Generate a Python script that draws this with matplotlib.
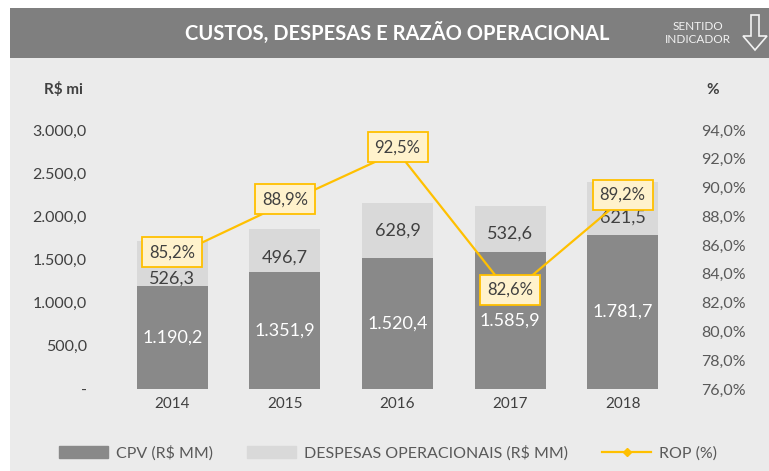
import numpy as np
import matplotlib.pyplot as plt
from matplotlib.patches import Rectangle, Polygon
from matplotlib.lines import Line2D
from matplotlib.patches import Patch

plt.rcParams['font.family'] = ['Lato', 'DejaVu Sans']

# dados
anos = ['2014', '2015', '2016', '2017', '2018']
cpv = [1190.2, 1351.9, 1520.4, 1585.9, 1781.7]
despesas = [526.3, 496.7, 628.9, 532.6, 621.5]
rop = [85.2, 88.9, 92.5, 82.6, 89.2]

# deslocamento (pt) dos rótulos de despesas para não bater nas caixas
desp_offset = [-11, -5, 0, -3, -7]

W, H = 769, 471
fig = plt.figure(figsize=(W / 100, H / 100), dpi=100)
fig.patch.set_facecolor('white')

def fx(px):
    return px / W

def fy(py):
    return 1 - py / H

# fundo e faixa do titulo
fig.patches.append(Rectangle((fx(10), 0), 1 - fx(10), fy(58), transform=fig.transFigure,
                             facecolor='#EBEBEB', edgecolor='none', zorder=-2))
fig.patches.append(Rectangle((fx(10), fy(58)), 1 - fx(10), fy(8) - fy(58), transform=fig.transFigure,
                             facecolor='#7F7F7F', edgecolor='none', zorder=-2))
fig.text(fx(397), fy(33), 'CUSTOS, DESPESAS E RAZÃO OPERACIONAL', color='white',
         fontsize=14.5, fontweight='bold', ha='center', va='center')
fig.text(fx(698), fy(33), 'SENTIDO\nINDICADOR', color='#F2F2F2', fontsize=8.5,
         ha='center', va='center', linespacing=1.3)
seta = [(751, 15), (759, 15), (759, 36), (767, 36), (755, 50), (743, 36), (751, 36)]
fig.patches.append(Polygon([(fx(x), fy(y)) for x, y in seta], closed=True, transform=fig.transFigure,
                           facecolor='none', edgecolor='#F2F2F2', linewidth=1.2, zorder=-1))

ax = fig.add_axes([fx(116), fy(389), fx(679) - fx(116), fy(130) - fy(389)])
ax.set_facecolor('none')
x = np.arange(len(anos))
largura = 0.63
ax.bar(x, cpv, largura, color='#898989', label='CPV (R$ MM)', zorder=2)
ax.bar(x, despesas, largura, bottom=cpv, color='#D9D9D9', label='DESPESAS OPERACIONAIS (R$ MM)', zorder=2)
ax.set_xlim(-0.5, len(anos) - 0.5)
ax.set_ylim(0, 3000)
ax.set_xticks(x)
ax.set_xticklabels(anos)
ax.set_yticks(np.arange(0, 3001, 500))

def fmt_mil(v):
    if v == 0:
        return '-'
    s = f'{v:,.1f}'
    return s.replace(',', 'X').replace('.', ',').replace('X', '.')

ax.set_yticklabels([fmt_mil(v) for v in np.arange(0, 3001, 500)])
ax.tick_params(axis='both', length=0, labelsize=11.5, colors='#404040')
ax.tick_params(axis='y', pad=21)
ax.tick_params(axis='x', pad=6, labelsize=11)
for s in ax.spines.values():
    s.set_visible(False)

for i in range(len(anos)):
    ax.text(x[i], cpv[i] / 2, fmt_mil(cpv[i]), color='white', fontsize=13,
            ha='center', va='center', zorder=3)
    ax.annotate(fmt_mil(despesas[i]), (x[i], cpv[i] + despesas[i] / 2), xytext=(0, desp_offset[i]),
                textcoords='offset points', color='#404040', fontsize=13,
                ha='center', va='center', zorder=3)

ax2 = ax.twinx()
ax2.set_ylim(76, 94)
ax2.set_yticks(np.arange(76, 94.1, 2))
ax2.set_yticklabels([f'{v:.1f}%'.replace('.', ',') for v in np.arange(76, 94.1, 2)])
ax2.tick_params(axis='y', length=0, labelsize=11.5, colors='#595959', pad=16)
for s in ax2.spines.values():
    s.set_visible(False)
ax2.plot(x, rop, color='#FFC000', linewidth=1.6, marker='D', markersize=4, zorder=4)
for i in range(len(anos)):
    ax2.annotate(f'{rop[i]:.1f}%'.replace('.', ','), (x[i], rop[i]), xytext=(0, 3),
                 textcoords='offset points', ha='center', va='center', fontsize=12,
                 color='#404040', zorder=5,
                 bbox=dict(boxstyle='square,pad=0.42', facecolor='#FFF2CC',
                           edgecolor='#FFC000', linewidth=1.3))

fig.text(fx(63), fy(90), 'R$ mi', fontsize=11, fontweight='bold', color='#404040',
         ha='center', va='center')
fig.text(fx(713), fy(90), '%', fontsize=11, fontweight='bold', color='#404040',
         ha='center', va='center')

handles = [Patch(color='#898989'), Patch(color='#D9D9D9'),
           Line2D([], [], color='#FFC000', marker='D', markersize=4, linewidth=1.6)]
labels = ['CPV (R$ MM)', 'DESPESAS OPERACIONAIS (R$ MM)', 'ROP (%)']
fig.legend(handles, labels, loc='center', bbox_to_anchor=(fx(388), fy(453)), ncol=3,
           frameon=False, fontsize=11.5, handlelength=3.1, handleheight=0.7,
           handletextpad=0.5, columnspacing=2.1, labelcolor='#595959')

fig.savefig('out.png', dpi=100, facecolor='white')
